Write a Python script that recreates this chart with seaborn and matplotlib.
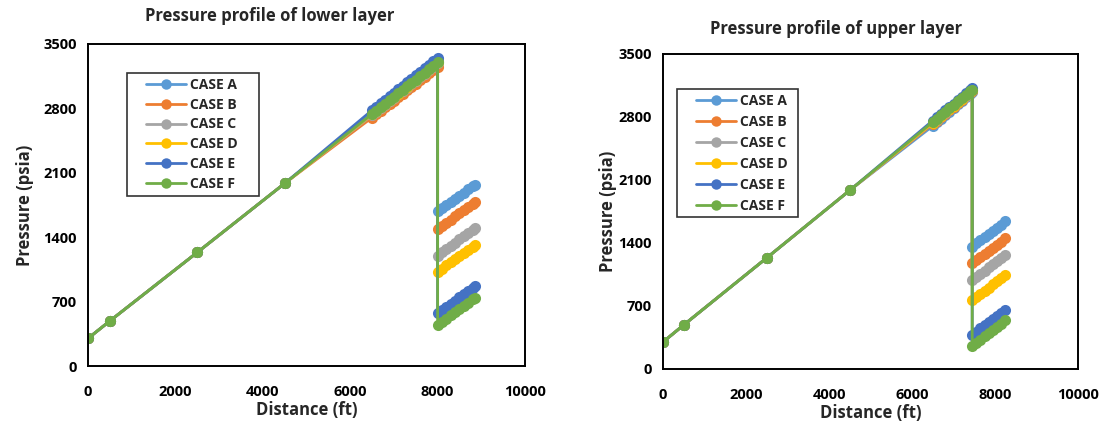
import matplotlib
matplotlib.use("Agg")
import matplotlib.pyplot as plt
from matplotlib.lines import Line2D
from matplotlib.legend_handler import HandlerLine2D
import pandas as pd
import seaborn as sns

# ---------------- data ----------------
cases = ["CASE A", "CASE B", "CASE C", "CASE D", "CASE E", "CASE F"]
colors = ["#5B9BD5", "#ED7D31", "#A5A5A5", "#FFC000", "#4472C4", "#70AD47"]

# stations shared by every case before the production zone
base_dist = [0, 500, 2500, 4500]
base_press = [300, 490, 1235, 1985]

# lower layer: wellbore section and reservoir section (ft)
lower_upper_dist = [6500, 6600, 6700, 6800, 6900, 7000, 7100, 7200,
                    7300, 7400, 7500, 7600, 7700, 7800, 7900, 8000]
lower_res_dist = [8000, 8100, 8200, 8300, 8400, 8500, 8600, 8700, 8800, 8850]

lower_upper_press = {
    "CASE A": [2745, 2783, 2820, 2858, 2896, 2933, 2971, 3009, 3046, 3084, 3122, 3159, 3197, 3235, 3272, 3310],
    "CASE B": [2700, 2737, 2774, 2811, 2848, 2885, 2922, 2959, 2996, 3033, 3070, 3107, 3144, 3181, 3218, 3255],
    "CASE C": [2725, 2763, 2800, 2838, 2876, 2913, 2951, 2989, 3026, 3064, 3102, 3139, 3177, 3215, 3252, 3290],
    "CASE D": [2735, 2773, 2810, 2848, 2886, 2923, 2961, 2999, 3036, 3074, 3112, 3149, 3187, 3225, 3262, 3300],
    "CASE E": [2780, 2818, 2856, 2894, 2932, 2970, 3008, 3046, 3084, 3122, 3160, 3198, 3236, 3274, 3312, 3350],
    "CASE F": [2740, 2777, 2815, 2852, 2889, 2927, 2964, 3001, 3039, 3076, 3113, 3151, 3188, 3225, 3263, 3300],
}
lower_res_press = {
    "CASE A": [1680, 1714, 1748, 1782, 1816, 1851, 1885, 1919, 1953, 1970],
    "CASE B": [1490, 1524, 1558, 1592, 1626, 1661, 1695, 1729, 1763, 1780],
    "CASE C": [1200, 1235, 1271, 1306, 1341, 1376, 1412, 1447, 1482, 1500],
    "CASE D": [1025, 1059, 1093, 1127, 1161, 1196, 1230, 1264, 1298, 1315],
    "CASE E": [575, 609, 643, 677, 711, 746, 780, 814, 848, 865],
    "CASE F": [445, 480, 514, 549, 584, 618, 653, 688, 723, 740],
}

# upper layer
upper_upper_dist = [6500, 6600, 6700, 6800, 6900, 7000, 7100, 7200, 7300, 7400, 7450]
upper_res_dist = [7450, 7550, 7650, 7750, 7850, 7950, 8050, 8150, 8250]

upper_upper_press = {
    "CASE A": [2700, 2740, 2780, 2820, 2860, 2900, 2940, 2980, 3020, 3060, 3080],
    "CASE B": [2720, 2759, 2798, 2837, 2876, 2915, 2954, 2993, 3032, 3071, 3090],
    "CASE C": [2730, 2768, 2807, 2845, 2884, 2922, 2961, 2999, 3037, 3076, 3095],
    "CASE D": [2735, 2773, 2812, 2850, 2889, 2927, 2966, 3004, 3042, 3081, 3100],
    "CASE E": [2760, 2798, 2836, 2874, 2912, 2949, 2987, 3025, 3063, 3101, 3120],
    "CASE F": [2745, 2783, 2821, 2859, 2897, 2934, 2972, 3010, 3048, 3086, 3105],
}
upper_res_press = {
    "CASE A": [1360, 1395, 1430, 1465, 1500, 1535, 1570, 1605, 1640],
    "CASE B": [1180, 1214, 1248, 1281, 1315, 1349, 1383, 1416, 1450],
    "CASE C": [990, 1024, 1059, 1093, 1128, 1162, 1196, 1231, 1265],
    "CASE D": [765, 800, 835, 870, 905, 940, 975, 1010, 1045],
    "CASE E": [380, 415, 450, 485, 520, 555, 590, 625, 660],
    "CASE F": [255, 291, 326, 362, 397, 433, 469, 504, 540],
}

x_ticks = [0, 2000, 4000, 6000, 8000, 10000]
y_ticks = [0, 700, 1400, 2100, 2800, 3500]


def build_frame(upper_dist, upper_press, res_dist, res_press):
    rows = []
    for case in cases:
        dist = base_dist + upper_dist + res_dist
        press = base_press + upper_press[case] + res_press[case]
        for d, p in zip(dist, press):
            rows.append({"case": case, "dist": d, "press": p})
    return pd.DataFrame(rows)


lower_df = build_frame(lower_upper_dist, lower_upper_press, lower_res_dist, lower_res_press)
upper_df = build_frame(upper_upper_dist, upper_upper_press, upper_res_dist, upper_res_press)


class InsetLineHandler(HandlerLine2D):
    """Legend line sample that starts a little way in from the frame."""

    def __init__(self, inset, **kw):
        super().__init__(**kw)
        self.inset = inset

    def create_artists(self, legend, orig_handle, xdescent, ydescent,
                       width, height, fontsize, trans):
        return super().create_artists(legend, orig_handle, xdescent - self.inset,
                                      ydescent, width - self.inset, height,
                                      fontsize, trans)


# ---------------- style ----------------
sns.set_theme(style="white")
plt.rcParams["font.family"] = ["Open Sans", "DejaVu Sans"]
plt.rcParams["font.weight"] = "bold"

fig = plt.figure(figsize=(11.06, 4.25), dpi=100)
ax1 = fig.add_axes([0.0796, 0.1388, 0.3951, 0.7577])
ax2 = fig.add_axes([0.5995, 0.1318, 0.3752, 0.7412])

palette = dict(zip(cases, colors))


def draw(ax, df, legend_box, label_spacing, ylabel_pad):
    sns.lineplot(data=df, x="dist", y="press", hue="case", hue_order=cases,
                 palette=palette, sort=False, estimator=None, ax=ax,
                 legend=False, marker="o", markersize=8,
                 markeredgewidth=0, linewidth=2.0)
    ax.set_xlim(0, 10000)
    ax.set_ylim(0, 3500)
    ax.set_xticks(x_ticks)
    ax.set_yticks(y_ticks)
    ax.tick_params(axis="both", direction="in", length=4, width=1.2,
                   labelsize=10.5, colors="black")
    ax.tick_params(axis="x", pad=14)
    ax.tick_params(axis="y", pad=8)
    for lab in ax.get_xticklabels() + ax.get_yticklabels():
        lab.set_fontweight("bold")
    for sp in ax.spines.values():
        sp.set_color("black")
        sp.set_linewidth(1.4)
    ax.set_xlabel("Distance (ft)", fontsize=12, fontweight="bold", labelpad=1)
    ax.set_ylabel("Pressure (psia)", fontsize=12, fontweight="bold", labelpad=ylabel_pad)
    handles = [Line2D([0], [0], color=c, lw=2.0, marker="o", markersize=7.5,
                      markeredgewidth=0) for c in colors]
    leg = ax.legend(handles, cases, loc="upper left", bbox_to_anchor=legend_box,
                    mode="expand", frameon=True, fancybox=False, edgecolor="black",
                    prop={"size": 10, "weight": "bold"}, handlelength=3.9,
                    handletextpad=0.3, labelspacing=label_spacing, borderpad=0.35,
                    borderaxespad=0,
                    handler_map={Line2D: InsetLineHandler(inset=10)})
    leg.get_frame().set_linewidth(1.2)


draw(ax1, lower_df, (0.089, 0.91, 0.302, 0.0), 0.42, 7)
draw(ax2, upper_df, (0.034, 0.889, 0.292, 0.0), 0.5, 1)

fig.text(0.244, 0.962, "Pressure profile of lower layer", ha="center", va="center",
         fontsize=12, fontweight="bold")
fig.text(0.756, 0.932, "Pressure profile of upper layer", ha="center", va="center",
         fontsize=12, fontweight="bold")

fig.savefig("out.png", dpi=100, facecolor="white")
